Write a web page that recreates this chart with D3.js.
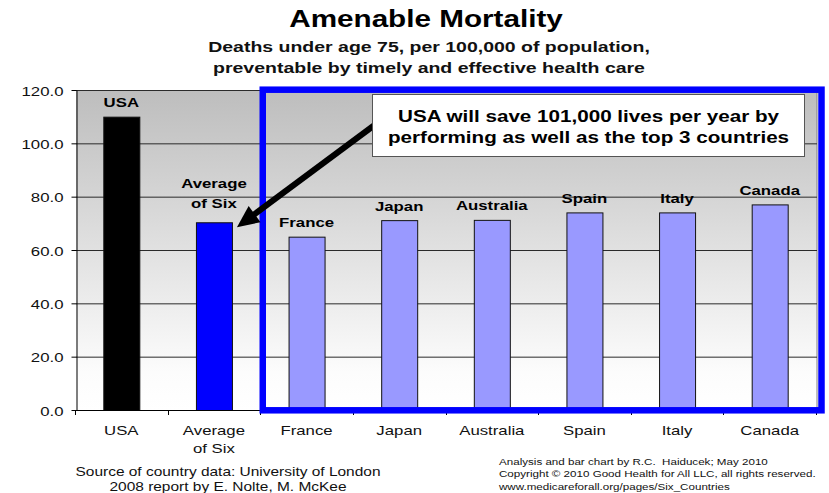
<!DOCTYPE html>
<html><head><meta charset="utf-8">
<script src="https://cdn.jsdelivr.net/npm/d3@7"></script>
<style>
body{margin:0;background:#fff}
svg{display:block;font-family:"Liberation Sans",Arial,Helvetica,sans-serif}
</style>
</head><body><svg id="c" width="829" height="493"></svg>
<script>
const categories = ["USA","Average of Six","France","Japan","Australia","Spain","Italy","Canada"];
const values = [110.0, 70.4, 65.0, 71.2, 71.3, 74.1, 74.1, 77.1];
const barLabels = [["USA"],["Average","of Six"],["France"],["Japan"],["Australia"],["Spain"],["Italy"],["Canada"]];
const axisLabels = [["USA"],["Average","of Six"],["France"],["Japan"],["Australia"],["Spain"],["Italy"],["Canada"]];
const yTicks = [0,20,40,60,80,100,120];
const titleText = "Amenable Mortality";
const subtitleLines = ["Deaths under age 75, per 100,000 of population,","preventable by timely and effective health care"];
const calloutLines = ["USA will save 101,000 lives per year by","performing as well as the top 3 countries"];
const sourceLines = ["Source of country data: University of London","2008 report by E. Nolte, M. McKee"];
const creditLines = ["Analysis and bar chart by R.C.  Haiducek; May 2010","Copyright \u00A9 2010 Good Health for All LLC, all rights reserved.","www.medicareforall.org/pages/Six_Countries"];

const SX = 1.29; // horizontal stretch of the original rendering
const svg = d3.select("#c");

const x = d3.scaleBand().domain(categories).range([75, 816]).padding(0);
const y = d3.scaleLinear().domain([0,120]).range([410, 90]);
const barW = 36;
const left = 76, right = 817;

function colorFor(c, i){
  if (i === 0) return "#000000";
  if (c === "Average of Six") return "#0000ff";
  return "#9999ff";
}

function stext(g, tx, ty, str, o){
  return g.append("text")
    .attr("transform", `translate(${tx},${ty}) scale(${o.sx||SX},1)`)
    .attr("text-anchor", o.anchor || "middle")
    .attr("font-size", o.size)
    .attr("font-weight", o.bold ? "bold" : "normal")
    .attr("fill", o.fill || "#000")
    .style("white-space", "pre")
    .text(str);
}

// gradient background
const defs = svg.append("defs");
const grad = defs.append("linearGradient").attr("id","bg").attr("x1",0).attr("y1",0).attr("x2",0).attr("y2",1);
grad.append("stop").attr("offset","0%").attr("stop-color","#bdbdbd");
grad.append("stop").attr("offset","88%").attr("stop-color","#fcfcfc");
grad.append("stop").attr("offset","100%").attr("stop-color","#ffffff");

svg.append("rect").attr("x", left).attr("y", y(120)).attr("width", right-left).attr("height", y(0)-y(120))
  .attr("fill","url(#bg)");
svg.append("line").attr("x1", right).attr("x2", right).attr("y1", y(120)).attr("y2", y(0))
  .attr("stroke","#808080").attr("stroke-width",1);

// gridlines
svg.append("g").selectAll("line").data(yTicks.filter(d=>d>0)).join("line")
  .attr("x1", left).attr("x2", right)
  .attr("y1", d=>y(d)+0.5).attr("y2", d=>y(d)+0.5)
  .attr("stroke","#2a2a2a").attr("stroke-width",1);

// y axis
const yAxis = svg.append("g").attr("transform",`translate(${left+0.5},0)`)
  .call(d3.axisLeft(y).tickValues(yTicks).tickSize(5).tickSizeOuter(0).tickFormat(d3.format(".1f")));
yAxis.select(".domain").attr("stroke","#000");
yAxis.selectAll(".tick line").attr("stroke","#000");
yAxis.selectAll(".tick text")
  .attr("x", null).attr("dy", null)
  .attr("font-family", null).attr("font-size", 13).attr("fill","#111")
  .attr("transform", `translate(-13,5) scale(${SX},1)`);

// bars
svg.append("g").selectAll("rect").data(categories).join("rect")
  .attr("x", d => x(d) + (x.bandwidth()-barW)/2 + 0.5)
  .attr("y", (d,i) => y(values[i]) + 0.5)
  .attr("width", barW)
  .attr("height", (d,i) => y(0) - y(values[i]))
  .attr("fill", (d,i) => colorFor(d,i))
  .attr("stroke", "#111").attr("stroke-width", 1);

// x axis
svg.append("line").attr("x1", left).attr("x2", right).attr("y1", y(0)+0.5).attr("y2", y(0)+0.5)
  .attr("stroke","#000");
const bounds = categories.map(c => x(c)).concat([x.range()[1]]);
svg.append("g").selectAll("line").data(bounds).join("line")
  .attr("x1", d=>Math.round(d)+0.5).attr("x2", d=>Math.round(d)+0.5)
  .attr("y1", y(0)).attr("y2", y(0)+5).attr("stroke","#000");

// x labels
const xl = svg.append("g");
categories.forEach((c,i) => {
  const cx = x(c) + x.bandwidth()/2;
  axisLabels[i].forEach((ln,j) => stext(xl, cx, 435 + j*18, ln, {size:13, fill:"#111"}));
});

// blue highlight box around the six countries
svg.append("rect")
  .attr("x", x("France") + 2.5).attr("y", y(120) - 0.3)
  .attr("width", x.range()[1] + 5.5 - x("France") - 2.5)
  .attr("height", y(0) - y(120) + 0.6)
  .attr("fill","none").attr("stroke","#0000ff").attr("stroke-width",6.5);

// bar value labels
const bl = svg.append("g");
categories.forEach((c,i) => {
  const cx = x(c) + x.bandwidth()/2;
  const top = y(values[i]);
  const lines = barLabels[i];
  lines.forEach((ln,j) => {
    const yy = lines.length === 1 ? top - 9.5 : top - 14 - (lines.length-1-j)*20;
    stext(bl, cx, yy, ln, {size:13, bold:true});
  });
});

// arrow from callout to the Average bar
const tipX = x("Average of Six") + (x.bandwidth()+barW)/2 + 5;
const tipY = y(values[1]) + 5;
const sx0 = 380, sy0 = 121;
const ang = Math.atan2(tipY - sy0, tipX - sx0);
const hl = 22, hw = 10;
const bx = tipX - hl*Math.cos(ang), by = tipY - hl*Math.sin(ang);
svg.append("line").attr("x1", sx0).attr("y1", sy0).attr("x2", bx + 2*Math.cos(ang)).attr("y2", by + 2*Math.sin(ang))
  .attr("stroke","#000").attr("stroke-width",6);
svg.append("path")
  .attr("d", `M${tipX},${tipY} L${bx + hw*Math.sin(ang)},${by - hw*Math.cos(ang)} L${bx - hw*Math.sin(ang)},${by + hw*Math.cos(ang)} Z`)
  .attr("fill","#000");

// callout box
svg.append("rect").attr("x", 372.5).attr("y", 94.5).attr("width", 432).attr("height", 62)
  .attr("fill","#fff").attr("stroke","#555").attr("stroke-width",1);
calloutLines.forEach((ln,j) => stext(svg, 588.5, 122 + j*21, ln, {size:16, bold:true}));

// titles
stext(svg, 426, 27, titleText, {size:23, bold:true});
subtitleLines.forEach((ln,j) => stext(svg, 429, 52 + j*21, ln, {size:15, bold:true, fill:"#111", sx:1.3}));

// footers
sourceLines.forEach((ln,j) => stext(svg, 228, 476 + j*15, ln, {size:12, fill:"#111"}));
creditLines.forEach((ln,j) => stext(svg, 499, 464.5 + j*12.8, ln, {size:9, anchor:"start", fill:"#111"}));
</script>
</body></html>
